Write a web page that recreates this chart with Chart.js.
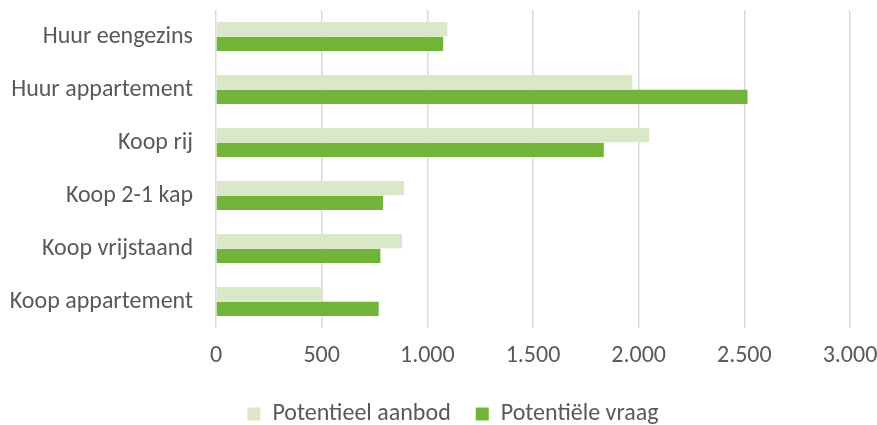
<!DOCTYPE html>
<html>
<head>
<meta charset="utf-8">
<script src="https://cdn.jsdelivr.net/npm/chart.js@4"></script>
<style>
  html, body { margin: 0; padding: 0; background: #fff; }
  #wrap { width: 877px; height: 425px; }
</style>
</head>
<body>
<div id="wrap"><canvas id="woningChart" width="877" height="425"></canvas></div>
<script>
const categories = ["Huur eengezins", "Huur appartement", "Koop rij", "Koop 2-1 kap", "Koop vrijstaand", "Koop appartement"];
const aanbod = [1095, 1970, 2050, 890, 880, 505];
const vraag = [1075, 2515, 1835, 790, 778, 770];
const xTicks = [0, 500, 1000, 1500, 2000, 2500, 3000];

const fmt = (v) => String(v).replace(/\B(?=(\d{3})+(?!\d))/g, ".");
const font = "Carlito, Lato, 'Open Sans', sans-serif";
const fsize = 24;

// legend sits a little right of centre in the original
const legendShift = {
  id: "legendShift",
  afterLayout(chart) {
    chart.legend.left += 28;
    chart.legend.right += 28;
  },
};

const ctx = document.getElementById("woningChart").getContext("2d");
new Chart(ctx, {
  type: "bar",
  data: {
    labels: categories,
    datasets: [
      {
        label: "Potentieel aanbod",
        data: aanbod,
        backgroundColor: "#d9e8c6",
        barPercentage: 0.95,
        categoryPercentage: 0.56,
      },
      {
        label: "Potentiële vraag",
        data: vraag,
        backgroundColor: "#72b43a",
        barPercentage: 0.95,
        categoryPercentage: 0.56,
      },
    ],
  },
  plugins: [legendShift],
  options: {
    indexAxis: "y",
    responsive: false,
    animation: false,
    layout: { padding: { top: 10, right: 27, left: 0, bottom: -11 } },
    scales: {
      x: {
        min: 0,
        max: 3000,
        afterBuildTicks: (scale) => { scale.ticks = xTicks.map((v) => ({ value: v })); },
        afterFit: (scale) => { scale.height = 49; scale.paddingLeft = 0; scale.paddingRight = 0; },
        grid: { color: "#d9d9d9", lineWidth: 1.5, drawTicks: false },
        border: { display: false },
        ticks: { callback: (v) => fmt(v), color: "#595959", font: { family: font, size: fsize }, padding: 14, maxRotation: 0 },
      },
      y: {
        grid: { display: false, drawTicks: false },
        border: { display: false },
        afterFit: (scale) => { scale.width = 216; scale.paddingTop = 0; scale.paddingBottom = 0; },
        ticks: { color: "#595959", font: { family: font, size: fsize }, padding: 23 },
      },
    },
    plugins: {
      legend: {
        position: "bottom",
        labels: { color: "#595959", font: { family: font, size: fsize }, boxWidth: 13, boxHeight: 13, padding: 25 },
      },
      tooltip: { enabled: false },
    },
  },
});
</script>
</body>
</html>
